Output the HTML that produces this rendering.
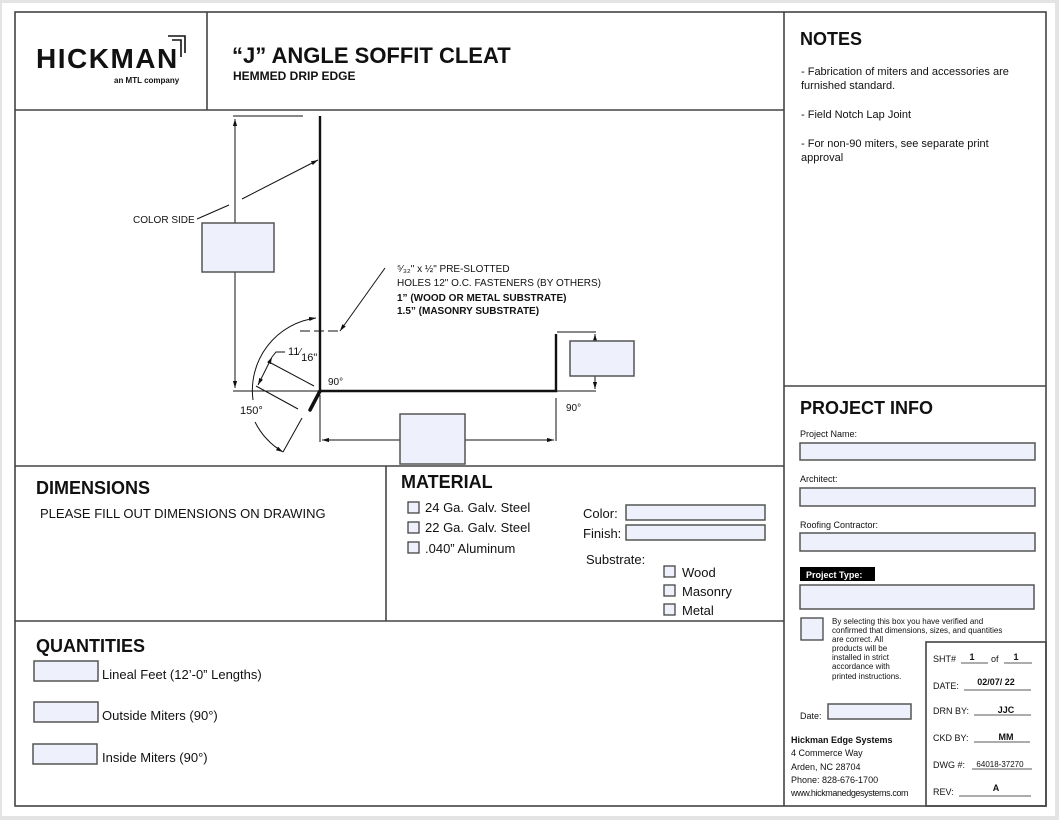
<!DOCTYPE html>
<html><head><meta charset="utf-8"><style>
html,body{margin:0;padding:0;background:#e4e4e4;}
svg{display:block;}
text{font-family:"Liberation Sans",sans-serif;fill:#111;}
.b{font-weight:bold;}
.fld{fill:#eef0fc;stroke:#555;stroke-width:1.5;}
.cb{fill:#eef0fc;stroke:#444;stroke-width:1.3;}
.ln{stroke:#111;stroke-width:1;fill:none;}
</style></head><body>
<svg width="1059" height="820" viewBox="0 0 1059 820" xmlns="http://www.w3.org/2000/svg">
<defs>
<marker id="ar" viewBox="0 0 10 10" refX="10" refY="5" markerWidth="7" markerHeight="7" orient="auto-start-reverse"><path d="M0,2 L10,5 L0,8 z" fill="#111"/></marker>
</defs>
<rect x="2" y="3" width="1053" height="813" fill="#fff"/>
<g stroke="#444" stroke-width="1.6" fill="none">
<rect x="15" y="12" width="1031" height="794"/>
<line x1="784" y1="12" x2="784" y2="806"/>
<line x1="15" y1="110" x2="784" y2="110"/>
<line x1="207" y1="12" x2="207" y2="110"/>
<line x1="15" y1="466" x2="784" y2="466"/>
<line x1="386" y1="466" x2="386" y2="621"/>
<line x1="15" y1="621" x2="784" y2="621"/>
<line x1="784" y1="386" x2="1046" y2="386"/>
<rect x="926" y="642" width="120" height="164"/>
</g>
<text x="36" y="68" class="b" font-size="28" letter-spacing="1.5">HICKMAN</text>
<path d="M168,36 H185 V53 M172,40 H181 V57" stroke="#111" stroke-width="1.6" fill="none"/>
<text x="114" y="83" class="b" font-size="8">an MTL company</text>
<text x="232" y="63" class="b" font-size="22">“J” ANGLE SOFFIT CLEAT</text>
<text x="233" y="80" class="b" font-size="12">HEMMED DRIP EDGE</text>
<text x="800" y="45" class="b" font-size="18">NOTES</text>
<text font-size="11"><tspan x="801" y="75">- Fabrication of miters and accessories are</tspan><tspan x="801" y="89">furnished standard.</tspan><tspan x="801" y="118">- Field Notch Lap Joint</tspan><tspan x="801" y="147">- For non-90 miters, see separate print</tspan><tspan x="801" y="161">approval</tspan></text>
<text x="800" y="414" class="b" font-size="18">PROJECT INFO</text>
<text x="800" y="437" font-size="9">Project Name:</text>
<rect class="fld" x="800" y="443" width="235" height="17"/>
<text x="800" y="482" font-size="9">Architect:</text>
<rect class="fld" x="800" y="488" width="235" height="18"/>
<text x="800" y="528" font-size="9">Roofing Contractor:</text>
<rect class="fld" x="800" y="533" width="235" height="18"/>
<rect x="800" y="567" width="75" height="14" fill="#000"/>
<text x="806" y="578" class="b" font-size="9" style="fill:#fff">Project Type:</text>
<rect class="fld" x="800" y="585" width="234" height="24"/>
<rect class="cb" x="801" y="618" width="22" height="22" stroke-width="2"/>
<text font-size="8"><tspan x="832" y="624">By selecting this box you have verified and</tspan><tspan x="832" y="633">confirmed that dimensions, sizes, and quantities</tspan><tspan x="832" y="642">are correct. All</tspan><tspan x="832" y="651">products will be</tspan><tspan x="832" y="660">installed in strict</tspan><tspan x="832" y="669">accordance with</tspan><tspan x="832" y="679">printed instructions.</tspan></text>
<text x="800" y="719" font-size="9">Date:</text>
<rect class="fld" x="828" y="704" width="83" height="15"/>
<text x="791" y="743" class="b" font-size="9">Hickman Edge Systems</text>
<text font-size="9"><tspan x="791" y="756">4 Commerce Way</tspan><tspan x="791" y="770">Arden, NC 28704</tspan><tspan x="791" y="783">Phone: 828-676-1700</tspan><tspan x="791" y="796" letter-spacing="-0.4">www.hickmanedgesystems.com</tspan></text>
<g font-size="9">
<text x="933" y="662">SHT#</text><text x="991" y="662">of</text>
<text x="933" y="689">DATE:</text>
<text x="933" y="714">DRN BY:</text>
<text x="933" y="741">CKD BY:</text>
<text x="933" y="768">DWG #:</text>
<text x="933" y="795">REV:</text>
</g>
<g stroke="#222" stroke-width="0.8">
<line x1="961" y1="663" x2="988" y2="663"/><line x1="1004" y1="663" x2="1032" y2="663"/>
<line x1="964" y1="690" x2="1031" y2="690"/>
<line x1="974" y1="715" x2="1031" y2="715"/>
<line x1="974" y1="742" x2="1030" y2="742"/>
<line x1="972" y1="769" x2="1032" y2="769"/>
<line x1="959" y1="796" x2="1031" y2="796"/>
</g>
<g class="b" font-size="9" text-anchor="middle">
<text x="972" y="660">1</text><text x="1016" y="660">1</text>
<text x="996" y="685">02/07/ 22</text>
<text x="1006" y="713">JJC</text>
<text x="1006" y="740">MM</text>
<text x="996" y="791">A</text>
</g>
<text x="1000" y="767" font-size="8" text-anchor="middle">64018-37270</text>
<text x="36" y="494" class="b" font-size="18">DIMENSIONS</text>
<text x="40" y="518" font-size="13">PLEASE FILL OUT DIMENSIONS ON DRAWING</text>
<text x="401" y="488" class="b" font-size="18">MATERIAL</text>
<rect class="cb" x="408" y="502" width="11" height="11"/><text x="425" y="512" font-size="13">24 Ga. Galv. Steel</text>
<rect class="cb" x="408" y="522" width="11" height="11"/><text x="425" y="532" font-size="13">22 Ga. Galv. Steel</text>
<rect class="cb" x="408" y="542" width="11" height="11"/><text x="425" y="553" font-size="13">.040” Aluminum</text>
<text x="583" y="518" font-size="13">Color:</text><rect class="fld" x="626" y="505" width="139" height="15"/>
<text x="583" y="538" font-size="13">Finish:</text><rect class="fld" x="626" y="525" width="139" height="15"/>
<text x="586" y="564" font-size="13">Substrate:</text>
<rect class="cb" x="664" y="566" width="11" height="11"/><text x="682" y="577" font-size="13">Wood</text>
<rect class="cb" x="664" y="585" width="11" height="11"/><text x="682" y="596" font-size="13">Masonry</text>
<rect class="cb" x="664" y="604" width="11" height="11"/><text x="682" y="615" font-size="13">Metal</text>
<text x="36" y="652" class="b" font-size="18">QUANTITIES</text>
<rect class="fld" x="34" y="661" width="64" height="20"/><text x="102" y="679" font-size="13">Lineal Feet (12’-0” Lengths)</text>
<rect class="fld" x="34" y="702" width="64" height="20"/><text x="102" y="720" font-size="13">Outside Miters (90°)</text>
<rect class="fld" x="33" y="744" width="64" height="20"/><text x="102" y="762" font-size="13">Inside Miters (90°)</text>
<g stroke="#111" stroke-width="2.4" fill="none">
<polyline points="320,116 320,391 556,391 556,334"/>
<line x1="320" y1="391" x2="310" y2="410" stroke-width="3.5" stroke-linecap="round"/>
</g>
<g class="ln">
<line x1="233" y1="116" x2="303" y2="116"/>
<line x1="233" y1="391" x2="320" y2="391"/>
<line x1="235" y1="119" x2="235" y2="223" marker-start="url(#ar)"/>
<line x1="235" y1="272" x2="235" y2="388" marker-end="url(#ar)"/>
<line x1="242" y1="199" x2="318" y2="160" marker-end="url(#ar)"/>
<line x1="197" y1="219" x2="229" y2="205"/>
<line x1="385" y1="268" x2="340" y2="331" marker-end="url(#ar)"/>
<line x1="300" y1="331" x2="340" y2="331" stroke-dasharray="10,4"/>
<line x1="557" y1="332" x2="596" y2="332"/>
<line x1="557" y1="391" x2="596" y2="391"/>
<line x1="595" y1="334" x2="595" y2="341" marker-start="url(#ar)"/>
<line x1="595" y1="376" x2="595" y2="389" marker-end="url(#ar)"/>
<line x1="320" y1="395" x2="320" y2="442"/>
<line x1="556" y1="398" x2="556" y2="441"/>
<line x1="322" y1="440" x2="400" y2="440" marker-start="url(#ar)"/>
<line x1="465" y1="440" x2="554" y2="440" marker-end="url(#ar)"/>
<path d="M253,400 A73,73 0 0 1 316,318" marker-end="url(#ar)"/>
<path d="M255,422 A73,73 0 0 0 283,452" marker-end="url(#ar)"/>
<line x1="302" y1="418" x2="283" y2="452"/>
<line x1="269" y1="362" x2="314" y2="386"/>
<line x1="256" y1="386" x2="298" y2="409"/>
<line x1="272" y1="357" x2="258" y2="385" marker-start="url(#ar)" marker-end="url(#ar)"/>
<polyline points="272,357 276,352 285,352"/>
</g>
<rect class="fld" x="202" y="223" width="72" height="49" stroke-width="1"/>
<rect class="fld" x="570" y="341" width="64" height="35" stroke-width="1"/>
<rect class="fld" x="400" y="414" width="65" height="50" stroke-width="1"/>
<text x="133" y="223" font-size="10">COLOR SIDE</text>
<text x="397" y="272" font-size="10">⁵⁄₃₂" x ½" PRE-SLOTTED</text>
<text x="397" y="286" font-size="10">HOLES 12" O.C. FASTENERS (BY OTHERS)</text>
<text x="397" y="301" class="b" font-size="10">1” (WOOD OR METAL SUBSTRATE)</text>
<text x="397" y="314" class="b" font-size="10">1.5” (MASONRY SUBSTRATE)</text>
<text x="288" y="355" font-size="11">11<tspan font-size="10">⁄</tspan><tspan dy="6" font-size="11">16"</tspan></text>
<text x="328" y="385" font-size="10">90°</text>
<text x="240" y="414" font-size="11">150°</text>
<text x="566" y="411" font-size="10">90°</text>
</svg>
</body></html>
